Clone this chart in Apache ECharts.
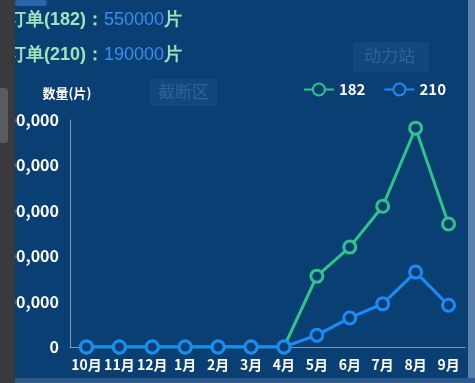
<!DOCTYPE html>
<html><head><meta charset="utf-8">
<script src="https://cdn.jsdelivr.net/npm/echarts@6/dist/echarts.min.js"></script>
<style>html,body{margin:0;padding:0;background:#0a3f74;}#c{width:475px;height:383px;}</style>
</head><body><div id="c"></div>
<script>
const categories = ['10月','11月','12月','1月','2月','3月','4月','5月','6月','7月','8月','9月'];
const series182 = [0,0,0,0,0,0,0,156000,220000,310000,482000,271000];
const series210 = [0,0,0,0,0,0,0,26000,64000,95000,165000,92000];
const seriesNames = ['182','210'];
const yTicks = {min:0, max:500000, interval:100000};
const headerRows = [['订单(182)：','550000','片'],['订单(210)：','190000','片']];

const chart = echarts.init(document.getElementById('c'));
const green = '#2ec48a', blue = '#1a8cf5';
const rich = {a:{fill:'#9fe3bb',fontSize:18,fontWeight:'bold'},b:{fill:'#3b8ee8',fontSize:18}};
chart.setOption({
  backgroundColor:'#0a3f74',
  textStyle:{fontFamily:'"Noto Sans CJK SC", "Noto Sans", sans-serif'},
  grid:{left:70,right:10,top:120,bottom:36,containLabel:false,outerBoundsMode:'none'},
  legend:{
    data:seriesNames, right:24, top:77, itemWidth:30, itemHeight:15, itemGap:18,
    textStyle:{color:'#ffffff',fontSize:15,fontWeight:'bold'}
  },
  xAxis:{
    type:'category', data:categories, boundaryGap:true,
    axisLine:{lineStyle:{color:'#7f9bbb'}}, axisTick:{show:false},
    axisLabel:{color:'#ffffff',fontSize:14,fontWeight:'bold',interval:0,margin:11}
  },
  yAxis:{
    type:'value', min:yTicks.min, max:yTicks.max, interval:yTicks.interval,
    name:'数量(片)', nameGap:20, nameTextStyle:{color:'#ffffff',fontSize:13,fontWeight:'bold',align:'center',padding:[0,0,0,-6]},
    axisLine:{show:true,lineStyle:{color:'#7f9bbb'}}, axisTick:{show:false},
    splitLine:{show:false},
    axisLabel:{color:'#ffffff',fontSize:16,fontWeight:'bold',margin:11,
      formatter:v=>v.toLocaleString('en-US')}
  },
  series:[
    {name:seriesNames[0],type:'line',data:series182,symbol:'circle',symbolSize:12,
      lineStyle:{color:green,width:3},itemStyle:{color:'#0a3f74',borderColor:green,borderWidth:3},z:2},
    {name:seriesNames[1],type:'line',data:series210,symbol:'circle',symbolSize:12,
      lineStyle:{color:blue,width:3},itemStyle:{color:'#0a3f74',borderColor:blue,borderWidth:3},z:3}
  ],
  graphic:[
    {type:'rect',left:15,top:0,shape:{width:32,height:6,r:3},style:{fill:'#2a66a8'}},
    {type:'rect',left:150,top:79,shape:{width:67,height:27},style:{fill:'rgba(40,100,170,0.22)'}},
    {type:'text',left:158,top:83,style:{text:'截断区',fill:'rgba(120,160,210,0.3)',fontSize:17,fontFamily:'"Noto Sans CJK SC"'}},
    {type:'rect',left:353,top:42,shape:{width:76,height:30},style:{fill:'rgba(40,100,170,0.22)'}},
    {type:'text',left:364,top:47,style:{text:'动力站',fill:'rgba(120,160,210,0.3)',fontSize:17,fontFamily:'"Noto Sans CJK SC"'}},
    {type:'text',left:8,top:11,style:{rich:rich,
      text:'{a|'+headerRows[0][0]+'}{b|'+headerRows[0][1]+'}{a|'+headerRows[0][2]+'}'}},
    {type:'text',left:8,top:46,style:{rich:rich,
      text:'{a|'+headerRows[1][0]+'}{b|'+headerRows[1][1]+'}{a|'+headerRows[1][2]+'}'}},
    {type:'rect',left:0,top:0,z:100,shape:{width:15,height:383},style:{fill:'#3a3a3c'}},
    {type:'rect',left:0,top:88,z:101,shape:{width:8,height:55,r:[0,4,4,0]},style:{fill:'#5a5b5e'}},
    {type:'rect',left:468,top:0,z:100,shape:{width:7,height:383},style:{fill:'#5a7fa8'}},
    {type:'rect',left:15,top:378,z:100,shape:{width:460,height:5},style:{fill:'#2d5a8a'}}
  ]
});
</script></body></html>
